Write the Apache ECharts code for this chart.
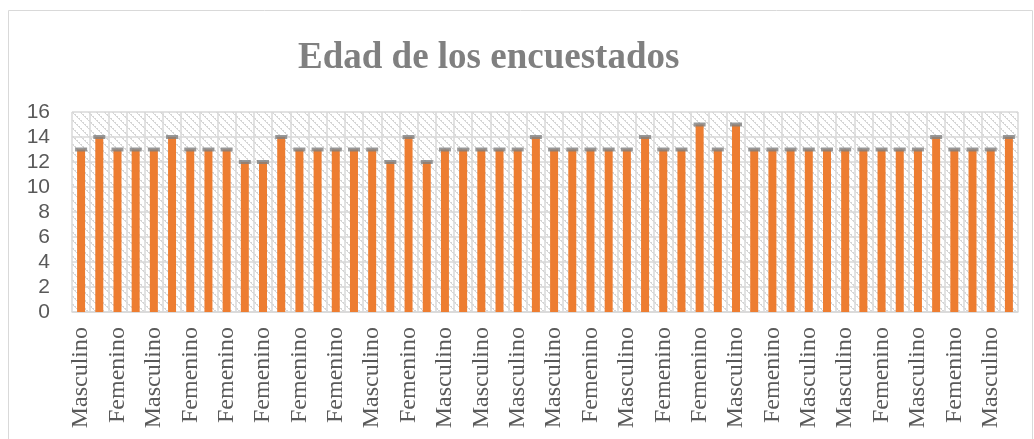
<!DOCTYPE html>
<html>
<head>
<meta charset="utf-8">
<script src="https://cdn.jsdelivr.net/npm/echarts@6/dist/echarts.min.js"></script>
<style>
  html, body { margin: 0; padding: 0; background: #fff; }
  #chart { width: 1034px; height: 439px; }
</style>
</head>
<body>
<div id="chart"></div>
<script>
// labels Excel shows (every second category)
var shownLabels = ['Masculino', 'Femenino', 'Masculino', 'Femenino', 'Femenino', 'Femenino',
  'Femenino', 'Femenino', 'Masculino', 'Femenino', 'Masculino', 'Masculino', 'Masculino',
  'Masculino', 'Femenino', 'Masculino', 'Femenino', 'Femenino', 'Masculino', 'Femenino',
  'Masculino', 'Masculino', 'Femenino', 'Masculino', 'Femenino', 'Masculino'];

var edades = [13, 14, 13, 13, 13, 14, 13, 13, 13, 12, 12, 14, 13, 13, 13, 13, 13, 12, 14, 12,
  13, 13, 13, 13, 13, 14, 13, 13, 13, 13, 13, 14, 13, 13, 15, 13, 15, 13, 13, 13,
  13, 13, 13, 13, 13, 13, 13, 14, 13, 13, 13, 14];

var yTicks = [0, 2, 4, 6, 8, 10, 12, 14, 16];

var categories = edades.map(function (v, i) {
  return i % 2 === 0 ? shownLabels[i / 2] : '';
});

// hatch pattern like the excel fill
function makePattern() {
  var c = document.createElement('canvas');
  c.width = 8; c.height = 8;
  var ctx = c.getContext('2d');
  ctx.fillStyle = '#ffffff';
  ctx.fillRect(0, 0, 8, 8);
  ctx.fillStyle = '#d6d6d6';
  for (var i = 0; i < 8; i++) {
    ctx.fillRect(i, i, 1, 1);
    if (i % 2 === 0) ctx.fillRect((i + 1) % 8, i, 1, 1);
  }
  return c;
}

var chart = echarts.init(document.getElementById('chart'));

var option = {
  animation: false,
  title: {
    text: 'Edad de los encuestados',
    left: 293,
    top: 35,
    textStyle: {
      fontFamily: "'Liberation Serif', serif",
      fontWeight: 'bold',
      fontSize: 37,
      color: '#808080'
    }
  },
  graphic: [{
    type: 'rect',
    shape: { x: 8.5, y: 10.5, width: 1024, height: 500 },
    style: { fill: null, stroke: '#d9d9d9', lineWidth: 1 },
    silent: true
  }],
  grid: {
    left: 72, right: 16, top: 112, bottom: 127,
    show: true,
    borderWidth: 0,
    backgroundColor: { image: makePattern(), repeat: 'repeat' }
  },
  xAxis: {
    type: 'category',
    data: categories,
    axisLine: { lineStyle: { color: '#d9d9d9', width: 1.5 } },
    axisTick: { show: false },
    splitLine: { show: true, interval: 0, lineStyle: { color: '#d9d9d9', width: 1.5 } },
    axisLabel: {
      interval: 1,
      rotate: 90,
      margin: 15,
      fontFamily: "'Liberation Serif', serif",
      fontSize: 24,
      color: '#595959'
    }
  },
  yAxis: {
    type: 'value',
    min: yTicks[0],
    max: yTicks[yTicks.length - 1],
    interval: 2,
    axisLine: { show: false },
    axisTick: { show: false },
    splitLine: { lineStyle: { color: '#d9d9d9', width: 1.5 } },
    axisLabel: {
      margin: 22,
      fontFamily: "'Liberation Sans', sans-serif",
      fontSize: 21,
      color: '#595959'
    }
  },
  series: [
    {
      type: 'bar',
      data: edades,
      barWidth: 8,
      itemStyle: { color: '#ED7D31' },
      z: 2
    },
    {
      type: 'scatter',
      data: edades,
      symbol: 'rect',
      symbolSize: [12, 4],
      itemStyle: { color: '#7F7F7F' },
      z: 3
    }
  ]
};

chart.setOption(option);
</script>
</body>
</html>
